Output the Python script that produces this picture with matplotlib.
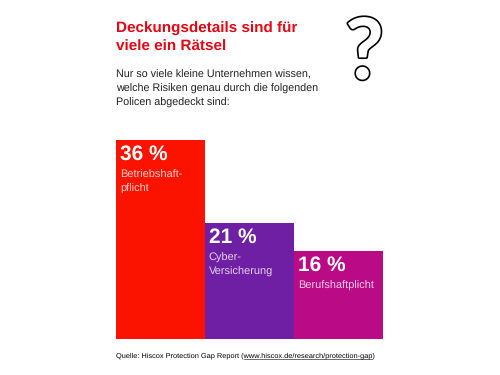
import matplotlib
matplotlib.use("Agg")
import matplotlib.pyplot as plt
import matplotlib.patheffects as pe
from matplotlib.lines import Line2D

# values
categories = ["Betriebshaft-\npflicht", "Cyber-\nVersicherung", "Berufshaftplicht"]
values = [36, 21, 16]
colors = ["#fb1300", "#6f1fa3", "#bb0a86"]

title = "Deckungsdetails sind für\nviele ein Rätsel"
intro = "Nur so viele kleine Unternehmen wissen,\nwelche Risiken genau durch die folgenden\nPolicen abgedeckt sind:"
source_a = "Quelle: Hiscox Protection Gap Report ("
source_link = "www.hiscox.de/research/protection-gap"
source_b = ")"

W, H = 500, 375
plt.rcParams["font.family"] = ["Liberation Sans", "DejaVu Sans"]
plt.rcParams["text.hinting"] = "no_hinting"

fig = plt.figure(figsize=(W / 100, H / 100), dpi=100, facecolor="white")


def fx(px):
    return px / W


def fy(py):
    return 1 - py / H


ax = fig.add_axes([fx(116), fy(339), (383 - 116) / W, (339 - 140) / H])
x = list(range(len(values)))
bars = ax.bar(x, values, width=1.0, color=colors, linewidth=0)
ax.set_xlim(-0.5, 2.5)
ax.set_ylim(0, 36)
ax.axis("off")

# value and name inside each bar, anchored to the top left corner
for bar, val, cat in zip(bars, values, categories):
    ax.annotate("%d %%" % val, (bar.get_x(), val), xytext=(3, -3.5),
                textcoords="offset points", color="white", fontsize=15,
                fontweight="bold", va="top", ha="left")
    ax.annotate(cat, (bar.get_x(), val), xytext=(2.8, -21.5),
                textcoords="offset points", color="#ffffff", alpha=0.8,
                fontsize=7.9, va="top", ha="left", linespacing=1.42)

fig.text(fx(116), fy(21.5), title, color="#e30613", fontsize=10.95, fontweight="bold",
         va="top", ha="left", linespacing=1.45)
fig.text(fx(116), fy(69.5), intro, color="#222222", fontsize=7.78, va="top", ha="left",
         linespacing=1.46)

# question mark
fig.text(fx(364.5), fy(79), "?", color="white", fontsize=61, ha="center", va="baseline",
         family="Lato", fontweight="bold",
         path_effects=[pe.withStroke(linewidth=2.4, foreground="black")])

# source line, the underline is measured from the text itself
src = fig.text(fx(116), fy(358), source_a + source_link + source_b, color="#000000",
               fontsize=5.3, va="baseline")
fig.canvas.draw()
r = fig.canvas.get_renderer()
full = src.get_window_extent(r)
src.set_text(source_a)
start = src.get_window_extent(r).x1
src.set_text(source_a + source_link + source_b)
src.set_text(source_a + source_link)
end = src.get_window_extent(r).x1
src.set_text(source_a + source_link + source_b)
fig.add_artist(Line2D([start / W, end / W], [fy(359), fy(359)], color="#333333", lw=0.5))

fig.savefig("out.png", dpi=100, facecolor="white")
